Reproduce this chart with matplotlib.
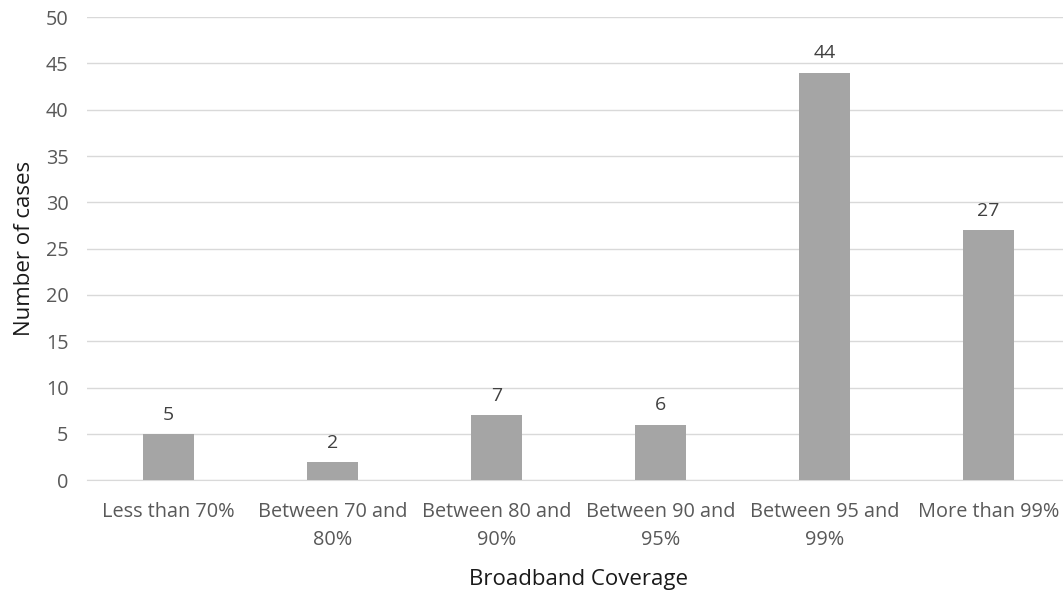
import matplotlib.pyplot as plt
import numpy as np

categories = ["Less than 70%", "Between 70 and\n80%", "Between 80 and\n90%",
              "Between 90 and\n95%", "Between 95 and\n99%", "More than 99%"]
cases = [5, 2, 7, 6, 44, 27]

plt.rcParams['font.family'] = ['Open Sans', 'DejaVu Sans']

fig = plt.figure(figsize=(10.63, 5.90), dpi=100)
ax = fig.add_axes([0.0814, 0.186, 0.9257, 0.785])

x = np.arange(len(categories))
bars = ax.bar(x, cases, width=0.31, color='#a5a5a5', zorder=3)

for xi, v in zip(x, cases):
    ax.text(xi, v + 1.1, str(v), ha='center', va='bottom', fontsize=14, color='#404040')

ax.set_xlim(-0.5, 5.5)
ax.set_ylim(0, 50)
ax.set_yticks(np.arange(0, 51, 5))
ax.set_xticks(x)
ax.set_xticklabels(categories, fontsize=14.3, color='#595959', linespacing=1.5)
ax.tick_params(axis='y', labelsize=14.3, labelcolor='#595959', length=0, pad=13)
ax.tick_params(axis='x', length=0, pad=16)

ax.grid(axis='y', color='#d9d9d9', linewidth=1, zorder=0)
for s in ['top', 'right', 'left']:
    ax.spines[s].set_visible(False)
ax.spines['bottom'].set_color('#d9d9d9')

ax.set_xlabel("Broadband Coverage", fontsize=16, color='#1a1a1a', labelpad=14)
ax.set_ylabel("Number of cases", fontsize=16, color='#1a1a1a')
ax.yaxis.set_label_coords(-0.052, 0.5)

fig.savefig("out.png", dpi=100)
